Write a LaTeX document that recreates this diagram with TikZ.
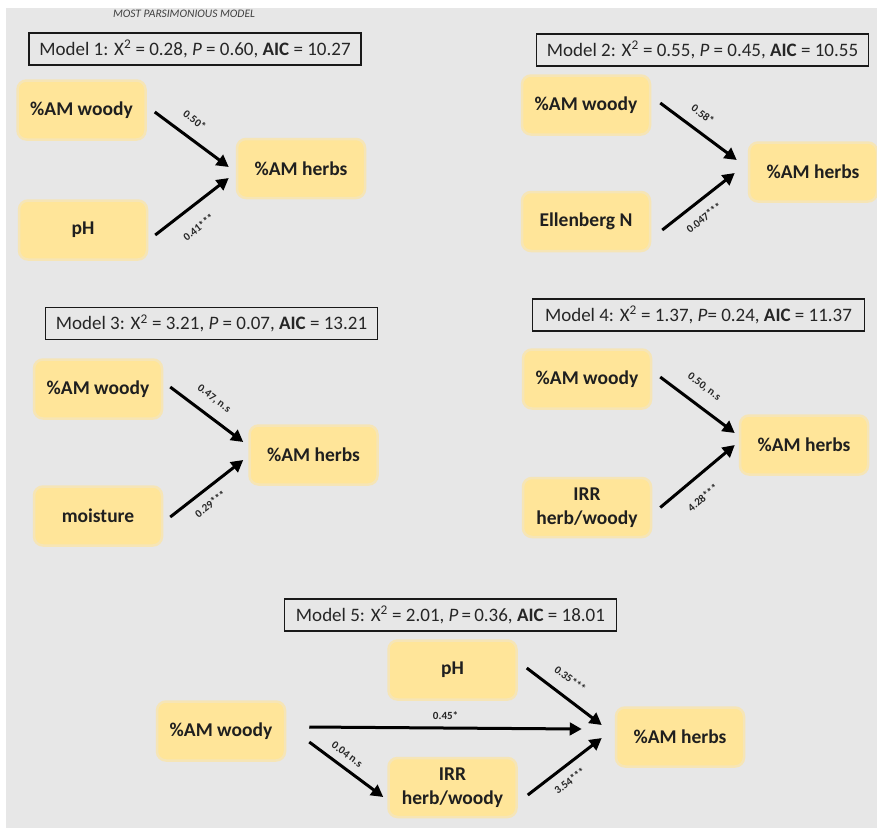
\documentclass[tikz,border=0pt]{standalone}
\usepackage{fontspec}
\setmainfont{Carlito}
\usetikzlibrary{arrows.meta}
\definecolor{bggray}{RGB}{231,231,231}
\definecolor{boxfill}{RGB}{255,229,153}
\definecolor{boxedge}{RGB}{246,229,182}

\begin{document}
\begin{tikzpicture}[x=1pt,y=-1pt,
  varbox/.style={fill=boxfill,draw=boxedge,line width=2.5pt,rounded corners=9pt,
    minimum width=128pt,minimum height=59pt,align=center,text=black!88,
    font=\fontsize{19.5}{24}\selectfont\bfseries},
  modelbox/.style={draw=black!90,line width=1.5pt,minimum width=332pt,minimum height=32pt,
    inner sep=0pt,text=black!85,font=\fontsize{19}{21}\selectfont},
  effect/.style={line width=3pt,-{Triangle[length=12pt,width=12.5pt]}},
  coef/.style={sloped,inner sep=1pt,text=black!85,font=\fontsize{11}{12}\selectfont\bfseries}]
\useasboundingbox (0,0) rectangle (877,828);
\fill[white] (0,0) rectangle (877,828);
\fill[bggray] (6,8) rectangle (877,828);
\node[text=black!75,font=\fontsize{11.5}{12}\selectfont\itshape] (most) at (184,14) {MOST PARSIMONIOUS MODEL};

% Model 1
\node[modelbox] (t1) at (195,49) {Model 1: X\textsuperscript{2} = 0.28, \textit{P} = 0.60, \textbf{AIC} = 10.27};
\node[varbox] (w1) at (81.5,110) {\%AM woody};
\node[varbox] (p1) at (83,230) {pH};
\node[varbox] (h1) at (301,168.5) {\%AM herbs};
\draw[effect] ([shift={(8,2)}]w1.east) -- node[coef,above=11pt,pos=0.40]{0.50*} ([shift={(-7,-1.5)}]h1.west);
\draw[effect] ([shift={(7,5)}]p1.east) -- node[coef,below=14pt,pos=0.42]{0.41***} ([shift={(-7,9.5)}]h1.west);

% Model 2
\node[modelbox] (t2) at (702.5,50) {Model 2: X\textsuperscript{2} = 0.55, \textit{P} = 0.45, \textbf{AIC} = 10.55};
\node[varbox] (w2) at (586,105) {\%AM woody};
\node[varbox] (e2) at (586,221.5) {Ellenberg N};
\node[varbox] (h2) at (813,172) {\%AM herbs};
\draw[effect] ([shift={(9,-2)}]w2.east) -- node[coef,above=10pt,pos=0.43]{0.58*} ([shift={(-11,-12)}]h2.west);
\draw[effect] ([shift={(11,8.5)}]e2.east) -- node[coef,below=9.5pt,pos=0.44]{0.047***} ([shift={(-13,1)}]h2.west);

% Model 3
\node[modelbox] (t3) at (211.5,323.5) {Model 3: X\textsuperscript{2} = 3.21, \textit{P} = 0.07, \textbf{AIC} = 13.21};
\node[varbox] (w3) at (98,389) {\%AM woody};
\node[varbox] (m3) at (98,516) {moisture};
\node[varbox] (h3) at (313.5,455) {\%AM herbs};
\draw[effect] ([shift={(7,-2)}]w3.east) -- node[coef,above=10pt,pos=0.46]{0.47, n.s} ([shift={(-5,-13)}]h3.west);
\draw[effect] ([shift={(7,1)}]m3.east) -- node[coef,below=8pt,pos=0.43]{0.29***} ([shift={(-5,5)}]h3.west);

% Model 4
\node[modelbox] (t4) at (698.5,315) {Model 4: X\textsuperscript{2} = 1.37, \textit{P}= 0.24, \textbf{AIC} = 11.37};
\node[varbox] (w4) at (587,379) {\%AM woody};
\node[varbox] (i4) at (587,507.5) {IRR\\herb/woody};
\node[varbox] (h4) at (804,445) {\%AM herbs};
\draw[effect] ([shift={(8,-2)}]w4.east) -- node[coef,above=11.5pt,pos=0.44]{0.50, n.s} ([shift={(-4,-12)}]h4.west);
\draw[effect] ([shift={(8,0)}]i4.east) -- node[coef,below=13.5pt,pos=0.40]{4.28***} ([shift={(-4,0)}]h4.west);

% Model 5
\node[modelbox] (t5) at (450.5,615) {Model 5: X\textsuperscript{2} = 2.01, \textit{P}\,=\,0.36, \textbf{AIC} = 18.01};
\node[varbox] (w5) at (221,731) {\%AM woody};
\node[varbox] (p5) at (452.5,670) {pH};
\node[varbox] (i5) at (452.5,787.5) {IRR\\herb/woody};
\node[varbox] (h5) at (680,737) {\%AM herbs};
\draw[effect] ([shift={(23,-4)}]w5.east) -- node[coef,above=5.5pt,pos=0.5]{0.45*} ([shift={(-33,-8)}]h5.west);
\draw[effect] ([shift={(23,11)}]w5.east) -- node[coef,above=6.5pt,pos=0.41]{0.04 n.s} ([shift={(-4,9.5)}]i5.west);
\draw[effect] ([shift={(9,-2)}]p5.east) -- node[coef,above=11pt,pos=0.44]{0.35***} ([shift={(-13,-12)}]h5.west);
\draw[effect] ([shift={(10,7.5)}]i5.east) -- node[coef,below=8pt,pos=0.45]{3.54***} ([shift={(-13,1)}]h5.west);
\end{tikzpicture}
\end{document}
